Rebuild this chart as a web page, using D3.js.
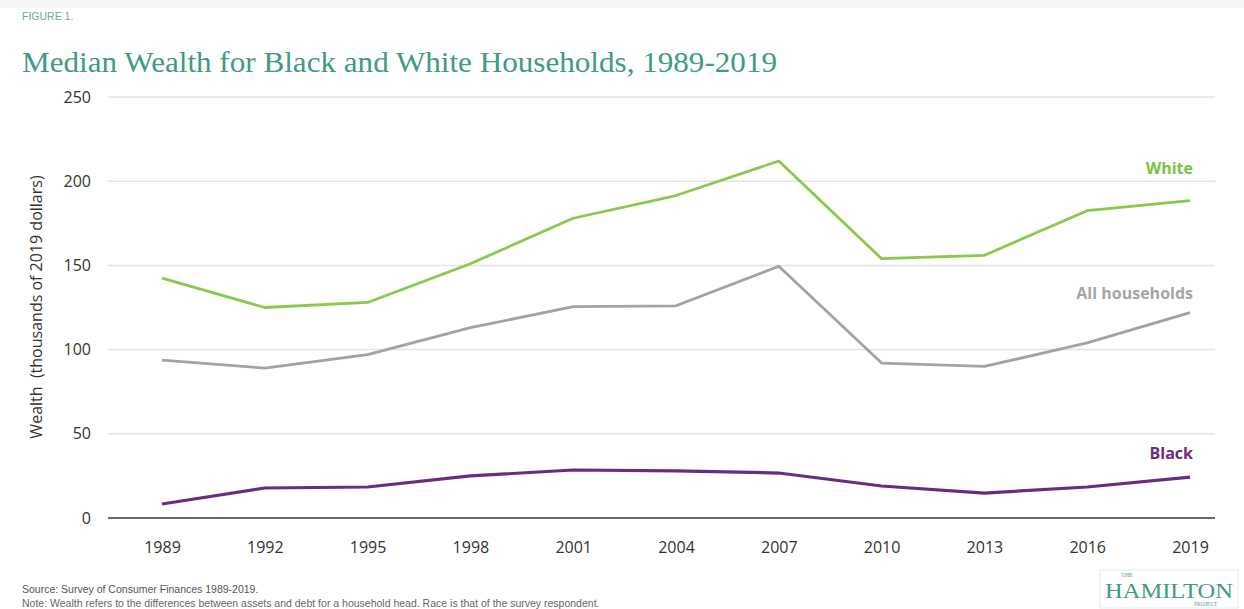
<!DOCTYPE html>
<html><head><meta charset="utf-8">
<script src="https://cdn.jsdelivr.net/npm/d3@7"></script>
<style>body{margin:0;background:#fff}svg{display:block}</style>
</head><body>
<svg id="c" width="1244" height="609"></svg>
<script>
const years = [1989,1992,1995,1998,2001,2004,2007,2010,2013,2016,2019];
const white = [142.5,125,128,151,178,191.5,212,154,156,182.5,188.5];
const allHouseholds = [93.7,89,97,113,125.5,126,149.5,92,90,104,122];
const black = [8.3,17.8,18.4,25,28.5,28,26.7,19,14.8,18.4,24.3];
const yTicks = [0,50,100,150,200,250];
const seriesNames = ["White","All households","Black"];

const svg = d3.select("#c");
svg.append("rect").attr("x",0).attr("y",0).attr("width",1244).attr("height",8).attr("fill","#f6f6f6");

const x = d3.scaleLinear().domain([1989,2019]).range([162,1190]);
const y = d3.scaleLinear().domain([0,250]).range([518,97]);
const left = 108, right = 1215;

// gridlines
svg.append("g").selectAll("line").data(yTicks.filter(d=>d>0)).join("line")
  .attr("x1",left).attr("x2",right).attr("y1",d=>y(d)).attr("y2",d=>y(d))
  .attr("stroke","#e4e4e4").attr("stroke-width",1.5);

// y axis labels
const yAxis = d3.axisLeft(y).tickValues(yTicks).tickSize(0).tickPadding(0);
const gy = svg.append("g").attr("transform","translate(91,0)").call(yAxis);
gy.select(".domain").remove();
gy.selectAll("text").attr("font-family","'Open Sans', sans-serif").attr("font-size",16).attr("fill","#333");

// x axis
const xAxis = d3.axisBottom(x).tickValues(years).tickFormat(d3.format("d")).tickSize(0).tickPadding(0);
const gx = svg.append("g").attr("transform","translate(0,542)").call(xAxis);
gx.select(".domain").remove();
gx.selectAll("text").attr("font-family","'Open Sans', sans-serif").attr("font-size",16).attr("fill","#333");

svg.append("line").attr("x1",left).attr("x2",right).attr("y1",y(0)).attr("y2",y(0))
  .attr("stroke","#6a6a6a").attr("stroke-width",2);

const line = d3.line().x((d,i)=>x(years[i])).y(d=>y(d));
const series = [
  {vals:white,color:"#8cc84b",w:2.8},
  {vals:allHouseholds,color:"#a3a3a3",w:2.8},
  {vals:black,color:"#6a2c82",w:3.2}
];
series.forEach(s=>{
  svg.append("path").datum(s.vals).attr("d",line).attr("fill","none")
    .attr("stroke",s.color).attr("stroke-width",s.w).attr("stroke-linejoin","round");
});

// series labels
const lab = [
  {t:seriesNames[0],v:white[10]+16,c:"#7cc242"},
  {t:seriesNames[1],v:allHouseholds[10]+8,c:"#a6a6a6"},
  {t:seriesNames[2],v:black[10]+10.5,c:"#6a2c82"}
];
svg.append("g").selectAll("text").data(lab).join("text")
  .attr("x",x(2019)+3).attr("y",d=>y(d.v)).attr("text-anchor","end")
  .attr("font-family","'Open Sans', sans-serif").attr("font-weight","bold").attr("font-size",16)
  .attr("fill",d=>d.c).text(d=>d.t);

// y axis title
svg.append("text").attr("transform","translate(42,307) rotate(-90)").attr("text-anchor","middle")
  .attr("font-family","'Open Sans', sans-serif").attr("font-size",16).attr("fill","#333")
  .attr("xml:space","preserve").text("Wealth  (thousands of 2019 dollars)");

// titles
svg.append("text").attr("x",22).attr("y",20).attr("font-family","'Liberation Sans Narrow','Liberation Sans',sans-serif")
  .attr("font-size",10.5).attr("fill","#6aa89a").text("FIGURE 1.");
svg.append("text").attr("x",22).attr("y",72).attr("font-family","'Liberation Serif','DejaVu Serif',serif")
  .attr("font-size",29).attr("fill","#3f9a86").attr("textLength",755).attr("lengthAdjust","spacingAndGlyphs")
  .text("Median Wealth for Black and White Households, 1989-2019");

// footer
svg.append("text").attr("x",22).attr("y",593).attr("font-family","'Liberation Sans',sans-serif")
  .attr("font-size",10.5).attr("fill","#555").text("Source: Survey of Consumer Finances 1989-2019.");
svg.append("text").attr("x",22).attr("y",607).attr("font-family","'Liberation Sans',sans-serif")
  .attr("font-size",10.5).attr("fill","#666").text("Note: Wealth refers to the differences between assets and debt for a household head. Race is that of the survey respondent.");

// logo
const lg = svg.append("g");
lg.append("rect").attr("x",1100).attr("y",570).attr("width",138).attr("height",38).attr("fill","none").attr("stroke","#e3efe9").attr("stroke-width",1);
lg.append("text").attr("x",1121).attr("y",577).attr("font-family","'Liberation Serif',serif").attr("font-size",6).attr("fill","#4aa08c").text("THE");
lg.append("text").attr("x",1169).attr("y",598).attr("text-anchor","middle").attr("font-family","'Liberation Serif',serif")
  .attr("font-size",22).attr("fill","#3f9a86").attr("textLength",128).attr("lengthAdjust","spacingAndGlyphs").text("HAMILTON");
lg.append("text").attr("x",1194).attr("y",606).attr("font-family","'Liberation Serif',serif").attr("font-size",5.5).attr("fill","#4aa08c").text("PROJECT");
</script>
</body></html>
